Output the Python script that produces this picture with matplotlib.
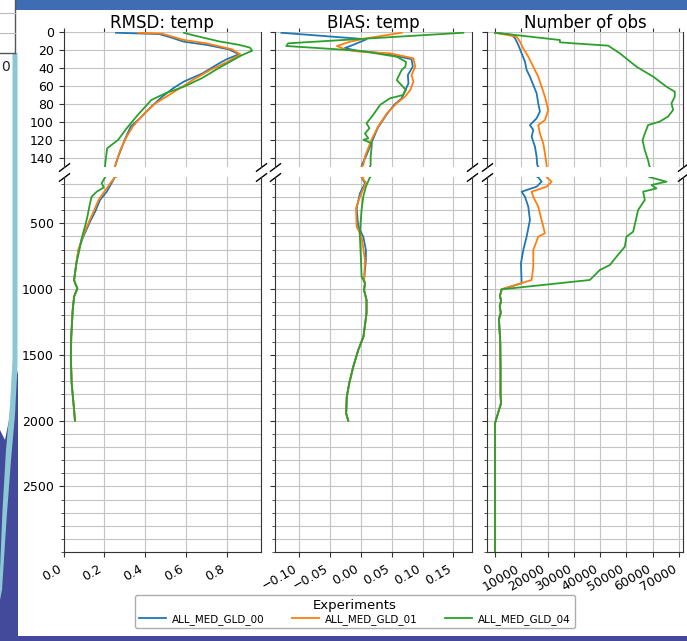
import matplotlib
matplotlib.use("Agg")
import matplotlib.pyplot as plt
from matplotlib.patches import Rectangle, Polygon
from matplotlib.lines import Line2D
from matplotlib.ticker import MultipleLocator

# ---------------- data ----------------
experiments = ["ALL_MED_GLD_00", "ALL_MED_GLD_01", "ALL_MED_GLD_04"]
colors = ["#1f77b4", "#ff7f0e", "#2ca02c"]
titles = ["RMSD: temp", "BIAS: temp", "Number of obs"]

# RMSD of temperature vs depth (m)
rmsd_depth_00 = [0.5, 2, 6, 10.5, 14, 19, 24.5, 30, 35, 46, 55, 62.5, 72, 83, 96, 105, 120, 139, 148,
                 150, 260, 323, 412, 488, 602, 703, 804, 931, 956, 994, 1057, 1159, 1362, 1514, 1717, 1920, 2000]
rmsd_00 = [0.257, 0.47, 0.53, 0.59, 0.70, 0.81, 0.86, 0.80, 0.76, 0.68, 0.59, 0.537, 0.483, 0.43, 0.375, 0.33, 0.30, 0.268, 0.255,
           0.252, 0.212, 0.179, 0.155, 0.13, 0.097, 0.073, 0.063, 0.052, 0.057, 0.068, 0.052, 0.045, 0.038, 0.036, 0.040, 0.052, 0.056]

rmsd_depth_01 = [0.5, 1.5, 8.6, 12.3, 19, 24.6, 32.8, 42.2, 53.3, 62.6, 71.8, 79.3, 90.5, 105, 116, 131, 146,
                 150, 190, 260, 323, 412, 488, 602, 703, 804, 931, 956, 994, 1057, 1159, 1362, 1514, 1717, 1920, 2000]
rmsd_01 = [0.365, 0.483, 0.59, 0.70, 0.826, 0.866, 0.805, 0.718, 0.633, 0.569, 0.504, 0.451, 0.397, 0.34, 0.311, 0.279, 0.257,
           0.252, 0.232, 0.200, 0.172, 0.147, 0.125, 0.094, 0.073, 0.063, 0.052, 0.057, 0.068, 0.052, 0.045, 0.038, 0.036, 0.040, 0.052, 0.056]

rmsd_depth_04 = [0.5, 3, 10, 14, 17, 20.5, 26, 40, 51, 60.7, 68, 75.6, 92, 107, 120, 129.5, 146,
                 150, 196, 227, 260, 298, 348, 450, 526, 614, 703, 804, 931, 956, 994, 1057, 1159, 1362, 1514, 1717, 1920, 2000]
rmsd_04 = [0.59, 0.63, 0.76, 0.86, 0.913, 0.925, 0.87, 0.76, 0.68, 0.59, 0.50, 0.43, 0.365, 0.31, 0.268, 0.214, 0.205,
           0.204, 0.187, 0.198, 0.163, 0.138, 0.130, 0.117, 0.105, 0.089, 0.078, 0.063, 0.052, 0.057, 0.068, 0.052, 0.045, 0.038, 0.036, 0.040, 0.052, 0.056]

# BIAS of temperature vs depth (m)
bias_depth_00 = [0.5, 7.8, 14, 17.5, 20.6, 23.5, 30, 38.4, 47.7, 57, 66, 73.7, 81, 92.3, 107, 123.9, 137, 148,
                 150, 196, 272, 386, 526, 602, 703, 779, 931,
                 956, 1007, 1083, 1184, 1362, 1463, 1590, 1716, 1818, 1944, 2000]
bias_00 = [-0.129, 0.009, -0.0125, -0.026, -0.007, 0.036, 0.082, 0.084, 0.076, 0.077, 0.071, 0.066, 0.0537, 0.041, 0.027, 0.0167, 0.009, 0.0015,
           0.001, 0.0065, -0.0016, -0.007, -0.0044, 0.0037, 0.008, 0.008, 0.005,
           0.0065, 0.005, 0.009, 0.009, 0.004, -0.0044, -0.0125, -0.019, -0.023, -0.024, -0.0206]

bias_depth_01 = [0.5, 6.7, 10.5, 15.3, 19.7, 21.6, 23.5, 29, 38.4, 47.7, 55, 64.4, 72, 79.3, 90.5, 105, 120, 138.6, 148,
                 150, 190, 298, 386, 526, 602, 779, 931,
                 956, 1007, 1083, 1184, 1362, 1463, 1590, 1716, 1818, 1944, 2000]
bias_01 = [0.066, 0.009, -0.018, -0.039, -0.023, -0.002, 0.047, 0.085, 0.088, 0.082, 0.085, 0.080, 0.071, 0.058, 0.042, 0.028, 0.017, 0.0065, 0.004,
           0.001, 0.008, -0.0016, -0.008, -0.007, 0.001, 0.0065, 0.005,
           0.0065, 0.005, 0.009, 0.009, 0.004, -0.0044, -0.0125, -0.019, -0.023, -0.024, -0.0206]

bias_depth_04 = [0.5, 12.3, 15.3, 20.6, 27.3, 33, 38.4, 42, 53.3, 60.7, 64.4, 70, 73.7, 81, 92, 101.6, 107, 113, 118.4, 120, 124, 139, 148,
                 150, 222, 298, 399, 576, 779, 906,
                 956, 1007, 1083, 1184, 1362, 1463, 1590, 1716, 1818, 1944, 2000]
bias_04 = [0.166, -0.118, -0.121, -0.002, 0.058, 0.073, 0.072, 0.066, 0.058, 0.068, 0.073, 0.068, 0.047, 0.031, 0.020, 0.009, 0.0138, 0.0065, 0.012, 0.004, 0.0178, 0.0157, 0.0157,
           0.0146, 0.008, 0.0037, 0.001, -0.002, 0.0, 0.001,
           0.0065, 0.005, 0.009, 0.009, 0.004, -0.0044, -0.0125, -0.019, -0.023, -0.024, -0.0206]

# Number of observations vs depth (m)
nobs_depth_00 = [0.5, 2.8, 6.6, 14, 23.5, 32.8, 42, 49.5, 58.8, 68, 79.3, 88.5, 96, 103.5, 109, 116.5, 127.6, 138.8, 148,
                 150, 184, 222, 260, 298, 374, 475, 602, 703, 804, 956,
                 1002, 1050, 1090, 1130, 1180, 1230, 1400, 1600, 1800, 1868, 1920, 2020, 2990]
nobs_00 = [0, 6340, 7600, 8860, 10130, 11390, 12030, 13290, 14560, 15830, 16450, 17090, 15830, 13290, 14560, 13940, 15190, 15830, 16070,
           16450, 17720, 15830, 10130, 11390, 12660, 13290, 12030, 10760, 9870, 10130,
           2530, 1900, 2300, 1800, 2200, 1500, 2000, 2100, 2100, 2300, 1500, 0, 0]

nobs_depth_01 = [0.5, 4.9, 10.5, 18, 27.2, 38.4, 49.5, 60.7, 71.8, 86.7, 98, 103.5, 113, 124, 135, 148,
                 150, 184, 222, 260, 298, 374, 576, 602, 703, 830, 931,
                 1002, 1050, 1090, 1130, 1180, 1230, 1400, 1600, 1800, 1868, 1920, 2020, 2990]
nobs_01 = [0, 8230, 9490, 10760, 12660, 14560, 16450, 17720, 18990, 20250, 18990, 16450, 17090, 18350, 18990, 19630,
           19630, 21520, 19630, 13940, 14560, 16450, 18990, 16450, 14560, 14560, 13940,
           2530, 1900, 2300, 1800, 2200, 1500, 2000, 2100, 2100, 2300, 1500, 0, 0]

nobs_depth_04 = [0.5, 8.6, 11.2, 12.3, 14.9, 23.5, 38.4, 49.5, 60.7, 66.3, 71.8, 79.3, 86.7, 94, 99.6, 103.5, 113, 120.5, 131.7, 142.9, 148,
                 150, 184, 209, 235, 260, 323, 399, 564, 602, 678, 754, 817, 855, 931,
                 1002, 1050, 1090, 1130, 1180, 1230, 1400, 1600, 1800, 1868, 1920, 2020, 2990]
nobs_04 = [0, 24690, 24690, 29750, 43040, 47480, 53810, 60140, 65200, 68360, 68360, 67100, 67730, 65830, 62670, 58220, 56970, 56090, 56970, 58220, 58600,
           58860, 65200, 59490, 61390, 56330, 56970, 54430, 52530, 50000, 49370, 46200, 43670, 39870, 36070,
           2530, 1900, 2300, 1800, 2200, 1500, 2000, 2100, 2100, 2300, 1500, 0, 0]

panels = [
    ([rmsd_depth_00, rmsd_depth_01, rmsd_depth_04], [rmsd_00, rmsd_01, rmsd_04]),
    ([bias_depth_00, bias_depth_01, bias_depth_04], [bias_00, bias_01, bias_04]),
    ([nobs_depth_00, nobs_depth_01, nobs_depth_04], [nobs_00, nobs_01, nobs_04]),
]
x_ticks = [
    [0.0, 0.2, 0.4, 0.6, 0.8],
    [-0.10, -0.05, 0.00, 0.05, 0.10, 0.15],
    [0, 10000, 20000, 30000, 40000, 50000, 60000, 70000],
]
x_limits = [(0.0, 0.966), (-0.14, 0.18), (-3150, 71600)]
top_yticks = [0, 20, 40, 60, 80, 100, 120, 140]
bottom_yticks = [500, 1000, 1500, 2000, 2500]

# ---------------- figure ----------------
W, H = 687, 641
fig = plt.figure(figsize=(W / 100, H / 100), dpi=100, facecolor="white")


def fx(x):
    return x / W


def fy(y):
    return 1 - y / H


# surrounding slide decoration
fig.add_artist(Rectangle((fx(16), fy(9.5)), fx(W - 16), 9.5 / H, transform=fig.transFigure,
                         facecolor="#3e6db4", edgecolor="none", zorder=-5))
fig.add_artist(Rectangle((0, fy(641)), 1, 5 / H, transform=fig.transFigure,
                         facecolor="#45479b", edgecolor="none", zorder=-5))
purple = [(0, 430), (5, 440), (9, 420), (13, 395), (18, 370), (18, 641), (0, 641)]
fig.add_artist(Polygon([(fx(a), fy(b)) for a, b in purple], closed=True, transform=fig.transFigure,
                       facecolor="#434a9c", edgecolor="none", zorder=-4))
teal_l = [(12.5, 53), (12.5, 360), (10, 405), (6, 450), (2.5, 510), (0, 570)]
teal_r = [(17.5, 53), (17.5, 365), (15, 415), (11, 460), (6.5, 520), (2, 590), (0, 600)]
teal = teal_l + teal_r[::-1]
fig.add_artist(Polygon([(fx(a), fy(b)) for a, b in teal], closed=True, transform=fig.transFigure,
                       facecolor="#8bc8d3", edgecolor="none", zorder=-3))
# partial table in the corner
fig.add_artist(Line2D([fx(15), fx(15)], [fy(0), fy(53)], transform=fig.transFigure, color="#555555", lw=1))
fig.add_artist(Line2D([0, fx(15)], [fy(53), fy(53)], transform=fig.transFigure, color="#555555", lw=1))
for yy in (13, 33):
    fig.add_artist(Line2D([0, fx(15)], [fy(yy), fy(yy)], transform=fig.transFigure, color="#bbbbbb", lw=0.8))
fig.text(fx(1.5), fy(67), "0", fontsize=10, ha="left", va="center", color="#222222")

cols_px = [(63.5, 260.6), (274.6, 472.0), (486.7, 683.3)]
top_px = (32.3, 166.7)
bot_px = (177.2, 552.3)

grid_kw = dict(color="#c4c4c4", linewidth=0.8)
brk = 0.75
brk_kw = dict(marker=[(-1, -brk), (1, brk)], markersize=8, linestyle="none", color="k",
              mec="k", mew=1, clip_on=False)

for i, (x0, x1) in enumerate(cols_px):
    ax_t = fig.add_axes([fx(x0), fy(top_px[1]), (x1 - x0) / W, (top_px[1] - top_px[0]) / H])
    ax_b = fig.add_axes([fx(x0), fy(bot_px[1]), (x1 - x0) / W, (bot_px[1] - bot_px[0]) / H])
    depths, values = panels[i]
    for ax in (ax_t, ax_b):
        for d, v, c in zip(depths, values, colors):
            ax.plot(v, d, color=c, linewidth=1.3)
        ax.set_xlim(*x_limits[i])
        ax.set_xticks(x_ticks[i])
        ax.grid(True, which="both", **grid_kw)
        ax.set_axisbelow(True)
        for s in ax.spines.values():
            s.set_color("#333333")
        ax.tick_params(labelsize=9, length=3.5, color="#333333")

    ax_t.set_ylim(150, 0)
    ax_t.set_yticks(top_yticks)
    ax_t.spines["bottom"].set_visible(False)
    ax_t.spines["top"].set_visible(False)
    ax_t.xaxis.tick_top()
    ax_t.tick_params(axis="x", labeltop=False, length=3)
    ax_t.set_title(titles[i], fontsize=12, pad=3)

    ax_b.set_ylim(3000, 150)
    ax_b.set_yticks(bottom_yticks)
    ax_b.yaxis.set_minor_locator(MultipleLocator(100))
    ax_b.tick_params(axis="y", which="minor", length=2.5, color="#333333")
    ax_b.spines["top"].set_visible(False)
    for lab in ax_b.get_xticklabels():
        lab.set_rotation(30)
        lab.set_ha("right")

    if i > 0:
        ax_t.tick_params(axis="y", labelleft=False)
        ax_b.tick_params(axis="y", which="both", labelleft=False)

    ax_t.plot([0, 1], [0, 0], transform=ax_t.transAxes, **brk_kw)
    ax_b.plot([0, 1], [1, 1], transform=ax_b.transAxes, **brk_kw)

handles = [Line2D([], [], color=c, linewidth=1.3) for c in colors]
leg = fig.legend(handles, experiments, title="Experiments", ncol=3, loc="upper left",
                 bbox_to_anchor=(fx(135), fy(595)), borderaxespad=0, fontsize=7.5,
                 title_fontsize=9.5, handlelength=2.6, handletextpad=0.6, columnspacing=2.6,
                 frameon=True, fancybox=True, edgecolor="#999999", borderpad=0.35,
                 labelspacing=0.2)

fig.savefig("out.png", dpi=100, facecolor="white")
